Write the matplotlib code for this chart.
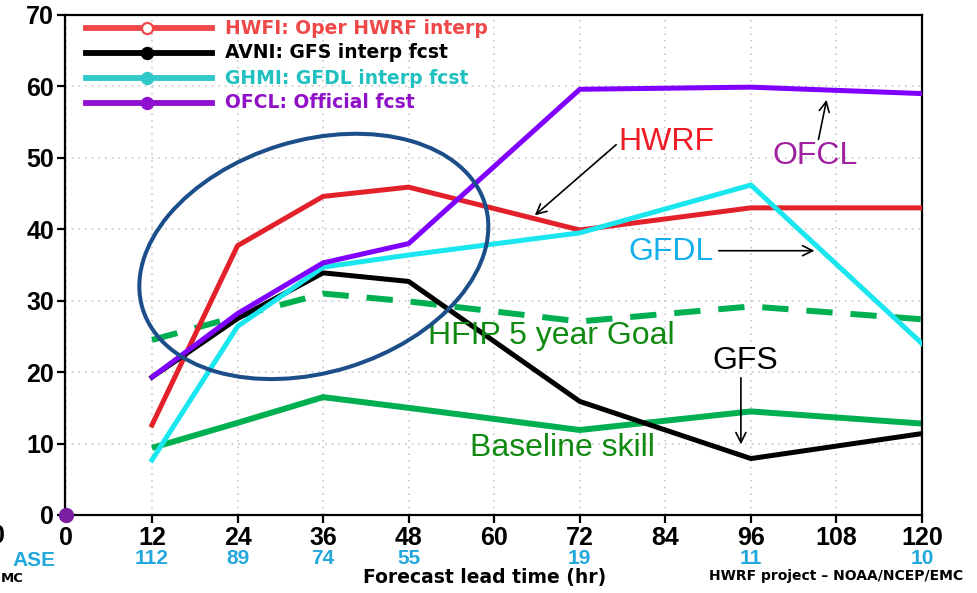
import matplotlib.pyplot as plt
import matplotlib.transforms as mtransforms
from matplotlib.patches import Ellipse
from matplotlib.lines import Line2D

# forecast lead times (hr) and track skill (%) for each model
lead_time = [0, 12, 24, 36, 48, 72, 96, 120]
hwfi = [None, 12.6, 37.7, 44.6, 45.9, 39.9, 43.0, 43.0]
avni = [None, 19.3, 27.5, 33.9, 32.7, 15.9, 7.9, 11.4]
ghmi = [None, 7.7, 26.4, 34.7, 36.4, 39.5, 46.2, 24.0]
ofcl = [0.0, 19.3, 28.2, 35.3, 38.0, 59.6, 59.9, 59.0]
hfip_goal = [None, 24.5, 27.8, 31.0, 29.9, 27.1, 29.2, 27.4]
baseline = [None, 9.4, 12.9, 16.5, 15.0, 11.9, 14.5, 12.8]

# number of verifying cases per lead time
case_hours = [12, 24, 36, 48, 72, 96, 120]
case_counts = [112, 89, 74, 55, 19, 11, 10]

xticks = list(range(0, 121, 12))
yticks = list(range(0, 71, 10))

legend_labels = ["HWFI: Oper HWRF interp", "AVNI: GFS interp fcst",
                 "GHMI: GFDL interp fcst", "OFCL: Official fcst"]

fig = plt.figure(figsize=(9.78, 5.93), dpi=100)
ax = fig.add_axes([65 / 978, 78 / 593, 857 / 978, 500 / 593])

tick_font = dict(family="Liberation Sans", weight="bold")
gfont = "DejaVu Sans"


def strip(vals):
    xs = [t for t, v in zip(lead_time, vals) if v is not None]
    ys = [v for v in vals if v is not None]
    return xs, ys


# goal / baseline lines
x, y = strip(baseline)
ax.plot(x, y, color="#00b050", lw=4.3, solid_capstyle="butt", zorder=2)
x, y = strip(hfip_goal)
ax.plot(x, y, color="#00b050", lw=4.3, dashes=(4.4, 3.0), zorder=2)

# model lines
x, y = strip(hwfi)
ax.plot(x, y, color="#e3212b", lw=3.6, zorder=3)
x, y = strip(avni)
ax.plot(x, y, color="black", lw=3.6, zorder=3)
x, y = strip(ghmi)
ax.plot(x, y, color="#19e6ee", lw=3.6, zorder=3)
ax.plot(lead_time[1:], ofcl[1:], color="#7f00ff", lw=3.6,
        solid_capstyle="round", zorder=4)
ax.plot(lead_time[0], ofcl[0], "o", color="#7a1fa0", ms=10, zorder=6,
        clip_on=False)

ax.set_xlim(-0.2, 120)
ax.set_ylim(0, 70)
ax.set_xticks(xticks)
ax.set_yticks(yticks)
ax.set_xticklabels([str(t) for t in xticks], fontsize=18, **tick_font)
ax.set_yticklabels([str(t) for t in yticks], fontsize=18, **tick_font)
ax.tick_params(direction="out", length=6, width=1.6, pad=2)
ax.grid(True, ls=(0, (1, 3)), color="#c8c8c8", lw=1.2)
for s in ax.spines.values():
    s.set_linewidth(1.6)

# case counts under the tick labels
for h, n in zip(case_hours, case_counts):
    ax.text(h, -0.086, str(n), transform=ax.get_xaxis_transform(),
            ha="center", va="center", fontsize=15, color="#22a8dc",
            **tick_font)
fig.text(55 / 978, 1 - 561 / 593, "ASE", ha="right", va="center",
         fontsize=15, color="#22a8dc", **tick_font)
fig.text(5 / 978, 1 - 536 / 593, "0", ha="right", va="center",
         fontsize=18, **tick_font)
fig.text(1 / 978, 1 - 578 / 593, "MC", ha="left", va="center",
         fontsize=9.5, family=gfont, weight="bold")

fig.text(485 / 978, 1 - 578 / 593, "Forecast lead time (hr)", ha="center",
         va="center", fontsize=13.5, family=gfont, weight="bold")
fig.text(836 / 978, 1 - 576 / 593, "HWRF project \u2013 NOAA/NCEP/EMC",
         ha="center", va="center", fontsize=10, family=gfont,
         weight="bold")

# legend drawn in axes fraction
leg_lines = ["#f04848", "black", "#30c8c8", "#9010d0"]
leg_text = ["#f04848", "black", "#20c0c0", "#9010c8"]
rows = [0.974, 0.924, 0.874, 0.824]
for i, (lab, lc, tc, ry) in enumerate(zip(legend_labels, leg_lines,
                                          leg_text, rows)):
    ax.add_line(Line2D([0.0245, 0.1715], [ry, ry], color=lc, lw=4.2,
                       transform=ax.transAxes, zorder=7))
    face = "white" if i == 0 else lc
    ax.add_line(Line2D([0.0957], [ry], marker="o", ms=8, mfc=face, mec=lc,
                       mew=1.6, transform=ax.transAxes, zorder=8))
    ax.text(0.1867, ry, lab, transform=ax.transAxes, ha="left",
            va="center", fontsize=13.5, color=tc, family=gfont,
            weight="bold")

# annotations
big = dict(family="Liberation Sans", fontsize=23)
arrow = dict(arrowstyle="->", color="black", lw=1.2, mutation_scale=18)
ax.text(84.2, 52.2, "HWRF", color="#ee1c24", ha="center", va="center", **big)
ax.annotate("", xy=(65.4, 41.7), xytext=(77.4, 52.1), arrowprops=arrow)
ax.text(105.0, 50.3, "OFCL", color="#a020a0", ha="center", va="center", **big)
ax.annotate("", xy=(106.7, 58.5), xytext=(105.4, 52.2), arrowprops=arrow)
ax.text(84.8, 36.8, "GFDL", color="#14b0ee", ha="center", va="center", **big)
ax.annotate("", xy=(105.3, 37.0), xytext=(91.1, 37.0), arrowprops=arrow)
ax.text(95.2, 21.6, "GFS", color="black", ha="center", va="center", **big)
ax.annotate("", xy=(94.6, 9.5), xytext=(94.6, 19.6), arrowprops=arrow)
ax.text(68.0, 25.1, "HFIP 5 year Goal", color="#108a10", ha="center",
        va="center", **big)
ax.text(69.6, 9.4, "Baseline skill", color="#108a10", ha="center",
        va="center", **big)

# highlight around the early lead times
trans = fig.dpi_scale_trans + mtransforms.ScaledTranslation(34.7, 36.2,
                                                            ax.transData)
ax.add_patch(Ellipse((0, 0), 3.58, 2.32, angle=17, fill=False,
                     ec="#1c4f8a", lw=2.9, transform=trans, zorder=9))

fig.savefig("out.png", dpi=100)
